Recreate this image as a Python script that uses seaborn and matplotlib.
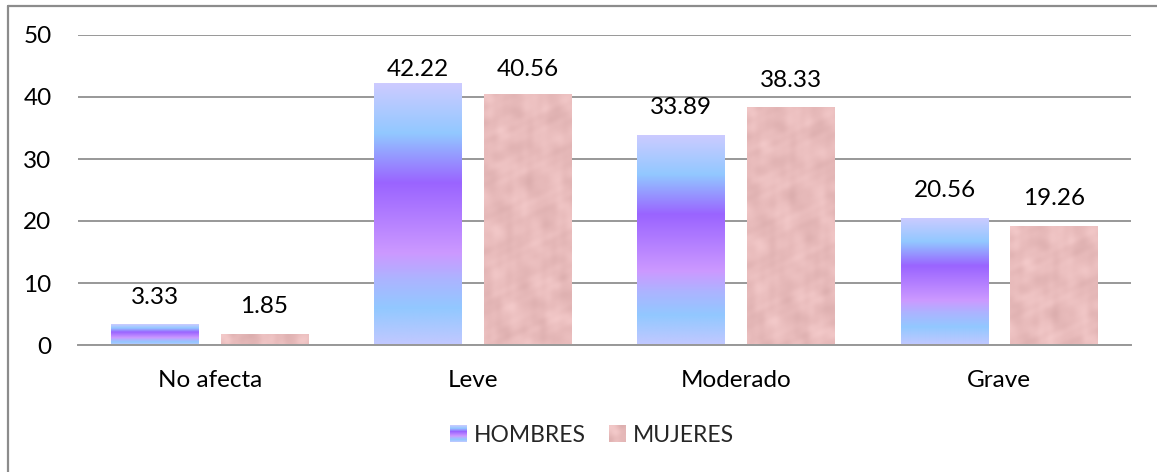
import numpy as np
import pandas as pd
import matplotlib
matplotlib.use("Agg")
import matplotlib.pyplot as plt
import seaborn as sns
from matplotlib.colors import LinearSegmentedColormap
from matplotlib.legend_handler import HandlerBase
from matplotlib.image import BboxImage
from matplotlib.transforms import Bbox, TransformedBbox
from matplotlib.lines import Line2D

categorias = ["No afecta", "Leve", "Moderado", "Grave"]
series = ["HOMBRES", "MUJERES"]
hombres = [3.33, 42.22, 33.89, 20.56]
mujeres = [1.85, 40.56, 38.33, 19.26]
yticks = [0, 10, 20, 30, 40, 50]

df = pd.DataFrame({
    "categoria": categorias * 2,
    "valor": hombres + mujeres,
    "sexo": [series[0]] * len(categorias) + [series[1]] * len(categorias),
})

sns.set_theme(style="white")
plt.rcParams["font.family"] = ["Lato", "DejaVu Sans"]

fig = plt.figure(figsize=(11.57, 4.72), dpi=100)
ax = fig.add_axes([78 / 1157, 127 / 472, (1131 - 78) / 1157, 310 / 472])

sns.barplot(data=df, x="categoria", y="valor", hue="sexo", order=categorias,
            hue_order=series, palette=["#b0a8ff", "#e8bcbc"], width=0.833, gap=0.2,
            saturation=1, ax=ax, legend=False, edgecolor="none", linewidth=0)

ax.set_ylim(0, 50)
ax.set_xlim(-0.5, 3.5)
ax.set_yticks(yticks)
ax.yaxis.grid(True, color="#989898", linewidth=1.4)
ax.set_axisbelow(True)
for s in ["top", "right", "left"]:
    ax.spines[s].set_visible(False)
ax.spines["bottom"].set_color("#989898")
ax.spines["bottom"].set_linewidth(1.4)
ax.tick_params(axis="both", length=0, labelsize=17.5, colors="black")
ax.tick_params(axis="y", pad=19)
ax.tick_params(axis="x", pad=18)
ax.set_xlabel("")
ax.set_ylabel("")

# gradient colormap for HOMBRES (top -> bottom)
grad = LinearSegmentedColormap.from_list("hombres", [
    (0.0, "#cdcbff"), (0.19, "#92c8ff"), (0.38, "#9a64ff"),
    (0.65, "#cc99ff"), (0.75, "#acb4ff"), (0.86, "#92c8ff"), (1.0, "#c2c8ff")])
gradarr = np.linspace(0, 1, 256).reshape(-1, 1)

# mottled texture for MUJERES (deterministic)
tex_cmap = LinearSegmentedColormap.from_list("mujeres", ["#dcaeae", "#e8bbbb", "#f3c9c9"])
def texture(h, w):
    yy, xx = np.mgrid[0:h, 0:w].astype(float)
    t = np.zeros_like(xx)
    params = [(0.131, 0.047, 0.3, 1.0), (-0.089, 0.113, 1.7, 0.9), (0.071, -0.157, 2.9, 0.8),
              (0.233, 0.181, 0.6, 0.6), (-0.197, 0.259, 4.1, 0.5), (0.311, -0.083, 5.3, 0.45),
              (0.057, 0.341, 0.9, 0.4), (-0.421, -0.287, 3.3, 0.3), (0.513, 0.377, 2.2, 0.25)]
    for kx, ky, ph, a in params:
        t += a * np.sin(kx * xx + ky * yy + ph) * np.cos(0.5 * ky * xx - 0.7 * kx * yy + ph * 0.5)
    t = (t - t.min()) / (t.max() - t.min())
    return t

for bar in ax.containers[0]:
    x0, w, h = bar.get_x(), bar.get_width(), bar.get_height()
    im = ax.imshow(gradarr, cmap=grad, aspect="auto", extent=(x0, x0 + w, 0, h),
                   origin="upper", interpolation="bilinear", zorder=bar.get_zorder())
    im.set_clip_path(bar)
for bar in ax.containers[1]:
    x0, w, h = bar.get_x(), bar.get_width(), bar.get_height()
    hp = max(int(h * 6.2), 4)
    im = ax.imshow(texture(hp, 88), cmap=tex_cmap, aspect="auto", extent=(x0, x0 + w, 0, h),
                   origin="upper", interpolation="bilinear", zorder=bar.get_zorder())
    im.set_clip_path(bar)

ax.set_ylim(0, 50)
ax.set_xlim(-0.5, 3.5)

# data labels
for cont, vals in zip(ax.containers, [hombres, mujeres]):
    for bar, v in zip(cont, vals):
        ax.text(bar.get_x() + bar.get_width() / 2, min(v + 4.4, 44.5), f"{v:.2f}",
                ha="center", va="center", fontsize=17.5, color="black")

# legend with image handles
class ImgHandler(HandlerBase):
    def __init__(self, arr, cmap):
        super().__init__()
        self.arr, self.cmap = arr, cmap
    def create_artists(self, legend, orig_handle, xdescent, ydescent, width, height, fontsize, trans):
        bb = Bbox.from_bounds(-xdescent, -ydescent, width, height)
        img = BboxImage(TransformedBbox(bb, trans), cmap=self.cmap, interpolation="bilinear")
        img.set_data(self.arr)
        img.set_clim(0, 1)
        return [img]

h1 = Line2D([], [], label=series[0])
h2 = Line2D([], [], label=series[1])
fig.legend(handles=[h1, h2], labels=series, loc="center",
           bbox_to_anchor=(592 / 1157, 1 - 436 / 472), ncol=2, frameon=False,
           fontsize=16.5, handlelength=0.7, handleheight=0.7, handletextpad=0.35,
           columnspacing=1.0,
           handler_map={h1: ImgHandler(gradarr, grad), h2: ImgHandler(texture(16, 16), tex_cmap)})

# outer frame (left and top visible)
fig.add_artist(Line2D([8 / 1157, 8 / 1157], [0, 1 - 5.5 / 472], transform=fig.transFigure,
                      color="#8c8c8c", linewidth=1.6))
fig.add_artist(Line2D([8 / 1157, 1], [1 - 5.5 / 472, 1 - 5.5 / 472], transform=fig.transFigure,
                      color="#8c8c8c", linewidth=1.6))

fig.savefig("out.png", dpi=100, facecolor="white")
